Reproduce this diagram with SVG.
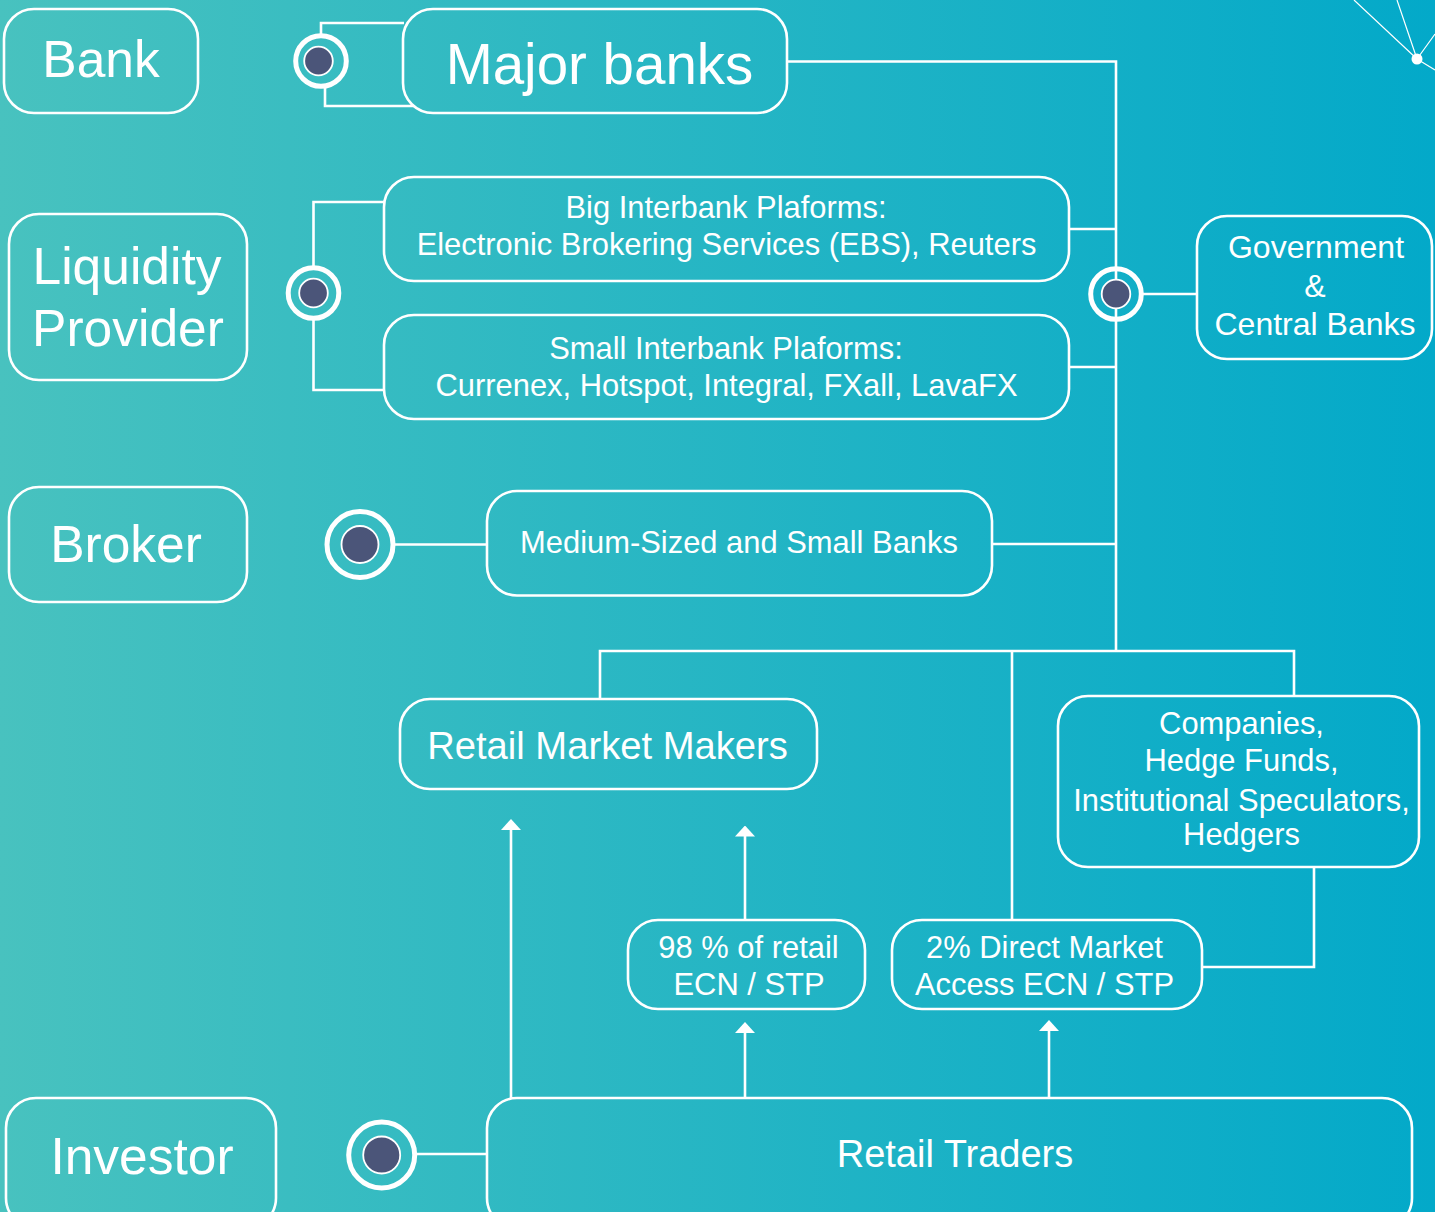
<svg xmlns="http://www.w3.org/2000/svg" width="1435" height="1212" viewBox="0 0 1435 1212">
<style>
.b{fill:none;stroke:#fff;stroke-width:2.600}
.c{fill:none;stroke:#fff;stroke-width:2.600}
.d{fill:none;stroke:#fff;stroke-width:1.200}
text{font-family:"Liberation Sans",Arial,sans-serif;fill:#fff;text-anchor:middle}
.t{font-size:30.900px}
.g{font-size:32px}
.l{font-size:51.500px}
.o{fill:none;stroke:#fff}
.i{fill:#4b5579;stroke:#fff}
</style>
<defs>
<linearGradient id="bg" x1="0" y1="0" x2="1" y2="0"><stop offset="0" stop-color="#48c2bf"/><stop offset="1" stop-color="#03a9c9"/></linearGradient>
<marker id="a" markerUnits="userSpaceOnUse" markerWidth="11" markerHeight="20" refX="5.500" refY="10" orient="auto" viewBox="0 0 11 20"><path d="M0 0L11 10L0 20Z" fill="#fff"/></marker>
</defs>
<rect width="1435" height="1212" fill="url(#bg)"/>
<g id="decor">
<path class="d" d="M1354 0L1417 59M1397 0L1417 59M1435 34L1417 59M1435 70L1417 59"/>
<circle cx="1417" cy="59" r="5.500" fill="#fff"/>
</g>
<g id="connectors">
<path class="c" d="M321 35V23H404M325 88V106H414"/>
<path class="c" d="M787 61.500H1116V651"/>
<path class="c" d="M1069 229H1116M1069 367H1116M992 544H1116M1143 294H1197"/>
<path class="c" d="M384 202H313.500V266M313.500 320V390H384"/>
<path class="c" d="M395 544.500H487M417 1154H487"/>
<path class="c" d="M600 699V651H1294V696M1012 651V920"/>
<path class="c" d="M1314 867V967H1203"/>
<path class="c" marker-end="url(#a)" d="M511 1098V824.500"/>
<path class="c" marker-end="url(#a)" d="M745 920V831"/>
<path class="c" marker-end="url(#a)" d="M745 1098V1027.500"/>
<path class="c" marker-end="url(#a)" d="M1049 1098V1025.500"/>
</g>
<g id="bank"><rect class="b" x="4" y="9" width="194" height="104" rx="30"/><text x="101" y="76.500" class="l">Bank</text></g>
<g id="major-banks"><rect class="b" x="403" y="9" width="384" height="104" rx="30"/><text x="599.500" y="84" font-size="56.500">Major banks</text></g>
<g id="liquidity-provider"><rect class="b" x="9" y="214" width="238" height="166" rx="30"/><text x="127" y="284" class="l">Liquidity</text><text x="128" y="345.500" class="l">Provider</text></g>
<g id="big-interbank"><rect class="b" x="384" y="177" width="685" height="104" rx="30"/><text x="726" y="218" class="t">Big Interbank Plaforms:</text><text x="726.500" y="255" class="t">Electronic Brokering Services (EBS), Reuters</text></g>
<g id="small-interbank"><rect class="b" x="384" y="315" width="685" height="104" rx="30"/><text x="726" y="359" class="t">Small Interbank Plaforms:</text><text x="726.500" y="396" class="t">Currenex, Hotspot, Integral, FXall, LavaFX</text></g>
<g id="government"><rect class="b" x="1197" y="216" width="235" height="143" rx="30"/><text x="1316" y="258" class="g">Government</text><text x="1315" y="297" class="g">&amp;</text><text x="1315" y="335" class="g">Central Banks</text></g>
<g id="broker"><rect class="b" x="9" y="487" width="238" height="115" rx="30"/><text x="126" y="562" class="l">Broker</text></g>
<g id="medium-banks"><rect class="b" x="487" y="491" width="505" height="104.500" rx="30"/><text x="739" y="553" class="t">Medium-Sized and Small Banks</text></g>
<g id="retail-market-makers"><rect class="b" x="400" y="699" width="417" height="90" rx="30"/><text x="607.500" y="759" font-size="38.200">Retail Market Makers</text></g>
<g id="companies"><rect class="b" x="1058" y="696" width="361" height="171" rx="30"/><text x="1241.500" y="734" class="t">Companies,</text><text x="1241.500" y="771" class="t">Hedge Funds,</text><text x="1241.500" y="811" class="t">Institutional Speculators,</text><text x="1241.500" y="845" class="t">Hedgers</text></g>
<g id="ecn-98"><rect class="b" x="628" y="920" width="237" height="89" rx="30"/><text x="748.500" y="958" class="t">98 % of retail</text><text x="749" y="995" class="t">ECN / STP</text></g>
<g id="ecn-2"><rect class="b" x="892" y="920" width="310" height="89" rx="30"/><text x="1044.500" y="958" class="t">2% Direct Market</text><text x="1044.500" y="995" class="t">Access ECN / STP</text></g>
<g id="investor"><rect class="b" x="6" y="1098" width="270" height="130" rx="30"/><text x="142" y="1173.500" class="l">Investor</text></g>
<g id="retail-traders"><rect class="b" x="487" y="1098" width="925" height="130" rx="30"/><text x="955" y="1167" font-size="38">Retail Traders</text></g>
<g id="dot-bank"><circle class="o" cx="321" cy="61" r="25.300" stroke-width="5"/><circle class="i" cx="318.500" cy="61" r="14.300" stroke-width="1.800"/></g>
<g id="dot-lp"><circle class="o" cx="313.500" cy="293" r="25.300" stroke-width="5"/><circle class="i" cx="313.500" cy="293" r="14.300" stroke-width="1.800"/></g>
<g id="dot-gov"><circle class="o" cx="1116" cy="294" r="25.300" stroke-width="5"/><circle class="i" cx="1116" cy="294" r="14.300" stroke-width="1.800"/></g>
<g id="dot-broker"><circle class="o" cx="360" cy="544.500" r="33" stroke-width="5"/><circle class="i" cx="360" cy="544.500" r="18.500" stroke-width="1.800"/></g>
<g id="dot-investor"><circle class="o" cx="381.700" cy="1155" r="33" stroke-width="5"/><circle class="i" cx="381.700" cy="1155" r="18.500" stroke-width="1.800"/></g>
</svg>
